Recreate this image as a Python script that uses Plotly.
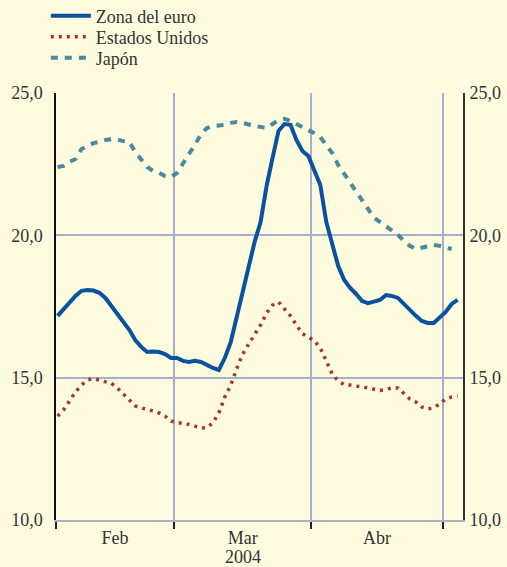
import pandas as pd
import plotly.graph_objects as go

# Business days from 2 Feb 2004 (x positions are business-day indices)
dates = pd.bdate_range("2004-02-02", periods=68)

euro = [17.17, 17.41, 17.66, 17.87, 18.05, 18.08, 18.06, 17.98, 17.80, 17.52,
        17.27, 16.99, 16.68, 16.32, 16.08, 15.90, 15.92, 15.90, 15.83, 15.69,
        15.69, 15.59, 15.55, 15.59, 15.55, 15.45, 15.34, 15.27, 15.69, 16.25,
        17.10, 18.08, 18.85, 19.77, 20.47, 21.73, 22.72, 23.67, 23.91, 23.88,
        23.35, 22.96, 22.79, 22.30, 21.77, 20.47, 19.66, 18.92, 18.43, 18.15,
        17.94, 17.69, 17.62, 17.66, 17.73, 17.90, 17.87, 17.80, 17.59, 17.34,
        17.17, 16.99, 16.92, 16.92, 17.10, 17.31, 17.59, 17.73]

usa = [13.65, 13.87, 14.18, 14.50, 14.74, 14.92, 14.97, 14.92, 14.85, 14.80,
       14.64, 14.43, 14.18, 14.01, 13.94, 13.90, 13.83, 13.76, 13.65, 13.48,
       13.41, 13.41, 13.37, 13.30, 13.23, 13.25, 13.41, 13.76, 14.32, 14.74,
       15.31, 15.83, 16.18, 16.50, 16.85, 17.27, 17.55, 17.66, 17.41, 17.17,
       16.85, 16.54, 16.43, 16.29, 16.04, 15.59, 15.13, 14.88, 14.76, 14.74,
       14.69, 14.67, 14.64, 14.60, 14.55, 14.59, 14.64, 14.64, 14.46, 14.25,
       14.15, 13.97, 13.90, 13.94, 14.08, 14.25, 14.32, 14.36]

japan = [22.40, 22.44, 22.58, 22.68, 23.03, 23.14, 23.24, 23.28, 23.35, 23.38,
         23.37, 23.31, 23.28, 22.93, 22.65, 22.40, 22.26, 22.19, 22.08, 22.05,
         22.19, 22.54, 22.86, 23.17, 23.56, 23.77, 23.84, 23.86, 23.88, 23.95,
         23.98, 23.95, 23.88, 23.84, 23.81, 23.77, 23.91, 24.05, 24.09, 24.02,
         23.91, 23.81, 23.70, 23.59, 23.45, 23.17, 22.89, 22.47, 22.15, 21.87,
         21.56, 21.21, 20.89, 20.61, 20.47, 20.33, 20.19, 20.02, 19.80, 19.63,
         19.52, 19.56, 19.63, 19.66, 19.63, 19.56, 19.52]

month_labels = ["Feb", "Mar", "Abr"]
year_label = "2004"
month_bounds = [-0.27, 19.5, 42.5, 64.5]   # month boundaries in business-day index
x_range = [-0.27, 67.9]
y_ticks = [10, 15, 20, 25]

BG = "#fefbdf"
GRID = "#a9b0cc"
TXT = "#333333"
FONT = "Liberation Serif, Times New Roman, DejaVu Serif, serif"
FS = 18

x_euro = list(range(len(euro)))
x_usa = list(range(len(usa)))
x_jap = list(range(len(japan)))

month_centers = [(month_bounds[i] + month_bounds[i + 1]) / 2 for i in range(3)]

fig = go.Figure()
fig.add_trace(go.Scatter(x=x_euro, y=euro, mode="lines", name="Zona del euro",
                         legend="legend",
                         line=dict(color="#0a52a0", width=4)))
fig.add_trace(go.Scatter(x=x_usa, y=usa, mode="lines", name="Estados Unidos",
                         legend="legend2",
                         line=dict(color="#a83434", width=3.5, dash="3px,5px")))
fig.add_trace(go.Scatter(x=x_jap, y=japan, mode="lines", name="Japón",
                         legend="legend3",
                         line=dict(color="#4a8a9c", width=4, dash="7px,7px")))
# invisible trace to carry the right-hand axis
fig.add_trace(go.Scatter(x=x_euro, y=euro, mode="lines", yaxis="y2",
                         line=dict(color="rgba(0,0,0,0)", width=0),
                         showlegend=False, hoverinfo="skip"))


def leg(y):
    return dict(x=-0.025, y=y, xanchor="left", yanchor="middle",
                bgcolor="rgba(0,0,0,0)", font=dict(family=FONT, size=FS, color=TXT),
                itemwidth=40)


fig.update_layout(
    width=507, height=567,
    margin=dict(l=56, r=44, t=93, b=47, autoexpand=False),
    paper_bgcolor=BG, plot_bgcolor=BG,
    separators=",.",
    font=dict(family=FONT, size=FS, color=TXT),
    showlegend=True,
    legend=leg(1.1803), legend2=leg(1.1311), legend3=leg(1.082),
    xaxis=dict(range=x_range, tickvals=month_centers, ticktext=month_labels,
               ticks="", ticklen=0, showgrid=False, zeroline=False,
               showline=True, linecolor=GRID, linewidth=1.5,
               ticklabelstandoff=1,
               minor=dict(tickvals=month_bounds, ticks="outside", ticklen=7,
                          tickcolor="#222222", tickwidth=2,
                          showgrid=True, gridcolor=GRID, gridwidth=1.5)),
    yaxis=dict(range=[10, 25], tickvals=y_ticks, tickformat=".1f",
               showgrid=True, gridcolor=GRID, gridwidth=1.5, zeroline=False,
               showline=True, linecolor="#111111", linewidth=1.5,
               ticks="", ticklabelstandoff=8),
    yaxis2=dict(range=[10, 25], tickvals=y_ticks, tickformat=".1f",
                overlaying="y", side="right", showgrid=False, zeroline=False,
                showline=True, linecolor="#333333", linewidth=2,
                ticks="", ticklabelstandoff=1),
    annotations=[dict(text=year_label, x=month_centers[1], xref="x",
                      y=-0.0867, yref="paper", xanchor="center", yanchor="middle",
                      showarrow=False, font=dict(family=FONT, size=FS, color=TXT))],
)

fig.write_html("out.html", config={"displayModeBar": False},
               post_script="document.body.style.margin='0';document.body.style.padding='0';")
